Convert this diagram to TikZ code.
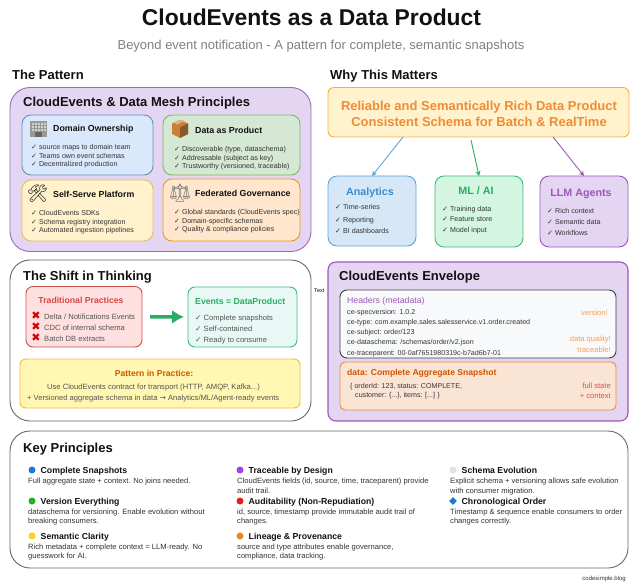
\documentclass[tikz,border=0pt]{standalone}
\usepackage{fontspec}
\usepackage{xcolor}
\usetikzlibrary{arrows.meta,shapes.geometric}
\setmainfont{Liberation Sans}
\newfontfamily\symfont{DejaVu Sans}
\newfontfamily\emojifont{Noto Emoji}
\newcommand{\fs}[1]{\fontsize{#1}{#1}\selectfont}
\newcommand{\ck}{{\symfont ✓}}
\definecolor{ink}{HTML}{111111}
\definecolor{body}{HTML}{333333}
\definecolor{soft}{HTML}{555555}
\definecolor{lilac}{HTML}{E4D5F2}
\definecolor{plum}{HTML}{9B6BB5}
\definecolor{hot}{HTML}{F08C36}
\definecolor{rust}{HTML}{D35400}
\definecolor{blueln}{HTML}{5AA5DC}
\definecolor{bluetx}{HTML}{3B8CD0}
\definecolor{greenln}{HTML}{3DBB78}
\definecolor{greentx}{HTML}{27AE60}
\definecolor{purpln}{HTML}{9B59B6}
\definecolor{redln}{HTML}{CD504B}
\definecolor{redtx}{HTML}{D64545}
\definecolor{notea}{HTML}{F5A05A}
\definecolor{noteb}{HTML}{E25050}
\definecolor{domfill}{HTML}{DAE8FC}
\definecolor{domln}{HTML}{6C8EBF}
\definecolor{prodfill}{HTML}{D5E8D4}
\definecolor{prodln}{HTML}{82B366}
\definecolor{platfill}{HTML}{FFF2CC}
\definecolor{platln}{HTML}{E2BE64}
\definecolor{govfill}{HTML}{FFE6CC}
\definecolor{govln}{HTML}{E4A014}
\definecolor{heroln}{HTML}{F8AE3C}
\definecolor{anafill}{HTML}{D6E8F8}
\definecolor{mlfill}{HTML}{D5F5E3}
\definecolor{tradfill}{HTML}{FFE0E0}
\definecolor{evfill}{HTML}{E8F8F5}
\definecolor{pracfill}{HTML}{FFF7B2}
\definecolor{pracln}{HTML}{F5B942}
\definecolor{hdrfill}{HTML}{F8F9FA}
\definecolor{datafill}{HTML}{FAE4D4}
\definecolor{dotblue}{HTML}{1E78D8}
\definecolor{dotgreen}{HTML}{22B022}
\definecolor{dotyellow}{HTML}{FFD21E}
\definecolor{dotpurple}{HTML}{A83EE8}
\definecolor{dotred}{HTML}{E02020}
\definecolor{dotorange}{HTML}{E88A1E}
\definecolor{dotgrey}{HTML}{E2E2E2}
\tikzset{
  box/.style={draw, rounded corners=9pt, anchor=north west, inner sep=0pt, outer sep=0pt, line width=0.9pt},
  big/.style={box, rounded corners=20pt},
  lab/.style={anchor=mid west, inner sep=0pt, text=ink},
  mid/.style={anchor=mid, inner sep=0pt},
  sect/.style={lab, font=\fs{13}\bfseries, yshift=-2.5pt},
  head/.style={lab, font=\fs{8.8}\bfseries, yshift=-1pt},
  item/.style={lab, text=body, font=\fs{7.1}},
  grey/.style={lab, text=soft, font=\fs{7.6}, yshift=-0.4pt},
  desc/.style={lab, text=body, font=\fs{7.6}, yshift=-0.4pt},
  note/.style={anchor=mid east, inner sep=0pt, font=\fs{7.6}, yshift=-0.4pt},
  dot/.style={circle, minimum size=7pt, inner sep=0pt},
  flow/.style={-{Stealth[length=5pt,width=5pt]}, line width=0.9pt},
}
\begin{document}
\begin{tikzpicture}[x=1pt,y=-1pt]
  \useasboundingbox (0,0) rectangle (639,585);

  \node[mid, text=ink, font=\fs{22.85}\bfseries, yshift=-6pt] (title) at (311.5,17) {CloudEvents as a Data Product};
  \node[mid, text=gray, font=\fs{13}, yshift=-2.5pt] (subtitle) at (321,44) {Beyond event notification - A pattern for complete, semantic snapshots};
  \node[sect] (patternT) at (12,74) {The Pattern};
  \node[sect] (whyT) at (330,74) {Why This Matters};

  % left top: principles
  \node[big, fill=lilac, draw=plum, minimum width=301pt, minimum height=164pt] (mesh) at (10,87.5) {};
  \node[sect] (meshT) at (23,101) {CloudEvents \& Data Mesh Principles};

  \node[box, fill=domfill, draw=domln, minimum width=131pt, minimum height=60pt] (domain) at (22,115) {};
  \node[box, fill=prodfill, draw=prodln, minimum width=137pt, minimum height=60pt] (product) at (163,115) {};
  \node[box, fill=platfill, draw=platln, minimum width=131pt, minimum height=61pt] (platform) at (22,180) {};
  \node[box, fill=govfill, draw=govln, minimum width=137pt, minimum height=62pt] (govern) at (163,179) {};

  % icons
  \fill[gray!80] (30,121) rectangle (47,137);
  \foreach \yy in {123,126,129} \foreach \xx in {32,35,38,41,44}
    \fill[gray!35] (\xx,\yy) rectangle +(1.6,1.8);
  \fill[black!60] (35,132.5) rectangle (42,137);
  \fill[brown!85!orange] (172,123.5) -- (180,120) -- (188,123.5) -- (188,134) -- (180,138) -- (172,134) -- cycle;
  \fill[brown!70!black] (180,127.5) -- (188,123.5) -- (188,134) -- (180,138) -- cycle;
  \fill[orange!35!brown!60!white] (174,122.6) -- (182,119.6) -- (184.5,121) -- (176.5,124.6) -- cycle;
  \node[inner sep=0pt, text=black!85, font=\emojifont\fs{17}] (toolsI) at (37.5,193.5) {🛠};
  \node[inner sep=0pt, text=gray, font=\emojifont\fs{18}] (scaleI) at (180,193) {⚖};

  \node[head] (domainT) at (53,128) {Domain Ownership};
  \foreach \y/\txt [count=\i] in {147/{source maps to domain team},155.8/{Teams own event schemas},164.3/{Decentralized production}}
    \node[item] (domain\i) at (31,\y) {\ck\ \txt};
  \node[head] (productT) at (195,130) {Data as Product};
  \foreach \y/\txt [count=\i] in {149/{Discoverable (type, dataschema)},157.8/{Addressable (subject as key)},166/{Trustworthy (versioned, traceable)}}
    \node[item] (product\i) at (174,\y) {\ck\ \txt};
  \node[head] (platformT) at (53,193.5) {Self-Serve Platform};
  \foreach \y/\txt [count=\i] in {213/{CloudEvents SDKs},221.5/{Schema registry integration},230/{Automated ingestion pipelines}}
    \node[item] (platform\i) at (31,\y) {\ck\ \txt};
  \node[head] (governT) at (195,193) {Federated Governance};
  \foreach \y/\txt [count=\i] in {212/{Global standards (CloudEvents spec)},220.5/{Domain-specific schemas},229/{Quality \& compliance policies}}
    \node[item] (govern\i) at (174,\y) {\ck\ \txt};

  % right top: why it matters
  \node[box, fill=platfill, draw=heroln, rounded corners=6pt, minimum width=301pt, minimum height=49.5pt] (hero) at (328,87.5) {};
  \node[mid, text=hot, font=\fs{13}\bfseries, yshift=-2.5pt] (heroA) at (479,105) {Reliable and Semantically Rich Data Product};
  \node[mid, text=hot, font=\fs{13}\bfseries, yshift=-2.5pt] (heroB) at (479,121) {Consistent Schema for Batch \& RealTime};

  \node[box, fill=anafill, draw=blueln, minimum width=88pt, minimum height=70pt] (analytics) at (328,176) {};
  \node[box, fill=mlfill, draw=greenln, minimum width=88pt, minimum height=71pt] (ml) at (435,176) {};
  \node[box, fill=lilac, draw=purpln, minimum width=88pt, minimum height=71pt] (llm) at (540,176) {};
  \node[mid, text=bluetx, font=\fs{10.7}\bfseries, yshift=-1.6pt] (analyticsT) at (370,191) {Analytics};
  \node[mid, text=greentx, font=\fs{10.7}\bfseries, yshift=-1.6pt] (mlT) at (476,190) {ML / AI};
  \node[mid, text=purpln, font=\fs{10.7}\bfseries, yshift=-1.6pt] (llmT) at (581,192) {LLM Agents};
  \foreach \y/\txt [count=\i] in {207/{Time-series},220/{Reporting},231/{BI dashboards}}
    \node[item] (analytics\i) at (335,\y) {\ck\ \txt};
  \foreach \y/\txt [count=\i] in {208.5/{Training data},219/{Feature store},230/{Model input}}
    \node[item] (ml\i) at (442,\y) {\ck\ \txt};
  \foreach \y/\txt [count=\i] in {211/{Rich context},221.5/{Semantic data},232.5/{Workflows}}
    \node[item] (llm\i) at (547,\y) {\ck\ \txt};

  \coordinate (heroL) at (403,137);
  \coordinate (heroM) at (471,140);
  \coordinate (heroR) at (553,137);
  \draw[flow, blueln] (heroL) -- (analytics.north);
  \draw[flow, greentx] (heroM) -- (ml.north);
  \draw[flow, purpln] (heroR) -- (llm.north);

  % shift in thinking
  \node[big, fill=white, draw=black!60, minimum width=301pt, minimum height=161pt] (shift) at (10,260) {};
  \node[sect] (shiftT) at (23,275) {The Shift in Thinking};
  \node[box, fill=tradfill, draw=redln, rounded corners=7pt, minimum width=116pt, minimum height=60.5pt] (trad) at (26,286.5) {};
  \node[box, fill=evfill, draw=greenln, rounded corners=7pt, minimum width=109pt, minimum height=60pt] (events) at (188,287) {};
  \draw[-{Latex[length=12pt,width=14pt]}, line width=3.4pt, draw=greentx, shorten <=8pt, shorten >=4pt] (trad) -- (events);
  \node[mid, text=redtx, font=\fs{8.7}\bfseries, yshift=-1pt] (tradT) at (81,300) {Traditional Practices};
  \node[lab, text=greentx, font=\fs{8.7}\bfseries, yshift=-1pt] (eventsT) at (195,301) {Events = DataProduct};
  \foreach \y/\txt [count=\i] in {316/{Delta / Notifications Events},327/{CDC of internal schema},338/{Batch DB extracts}} {
    \node[inner sep=0pt, text=red!85!black, font=\symfont\fs{11}] (cross\i) at (36,\y) {✖};
    \node[grey] (trad\i) at (44,\y) {\txt};
  }
  \foreach \y/\txt [count=\i] in {317/{Complete snapshots},328/{Self-contained},339/{Ready to consume}}
    \node[grey] (events\i) at (195,\y) {\ck\ \txt};

  \node[box, fill=pracfill, draw=pracln, rounded corners=6pt, minimum width=280pt, minimum height=49pt] (practice) at (20,359) {};
  \node[mid, text=rust, font=\fs{8.6}\bfseries, yshift=-1pt] (practiceT) at (154,373) {Pattern in Practice:};
  \node[grey] (practice1) at (47,386) {Use CloudEvents contract for transport (HTTP, AMQP, Kafka...)};
  \node[grey] (practice2) at (27,397) {+ Versioned aggregate schema in data {\symfont →} Analytics/ML/Agent-ready events};
  \node[lab, font=\fs{5.6}] (stray) at (314,290) {Text};

  % envelope
  \node[box, fill=lilac, draw=purpln, rounded corners=8pt, line width=1.1pt, minimum width=300pt, minimum height=159pt] (envelope) at (328,262) {};
  \node[sect] (envelopeT) at (339,275) {CloudEvents Envelope};
  \node[box, fill=hdrfill, draw=black!75, rounded corners=7pt, minimum width=276pt, minimum height=68pt] (headers) at (340,290) {};
  \node[lab, text=purpln, font=\fs{8.7}, yshift=-1pt] (headersT) at (347,300) {Headers (metadata)};
  \foreach \y/\txt [count=\i] in {312/{ce-specversion: 1.0.2},322/{ce-type: com.example.sales.salesservice.v1.order.created},332/{ce-subject: order/123},342/{ce-dataschema: /schemas/order/v2.json},353/{ce-traceparent: 00-0af7651980319c-b7ad6b7-01}}
    \node[item, text=ink!85] (headers\i) at (347,\y) {\txt};
  \node[note, text=notea] (noteA) at (608,312) {version!};
  \node[note, text=notea] (noteB) at (611,338) {data quality!};
  \node[note, text=notea] (noteC) at (611,349) {traceable!};

  \node[box, fill=datafill, draw=hot, rounded corners=5pt, minimum width=276pt, minimum height=48pt] (dataB) at (340,362) {};
  \node[lab, text=rust, font=\fs{8.6}\bfseries, yshift=-1pt] (dataT) at (347,372) {data: Complete Aggregate Snapshot};
  \node[item, text=ink!85] (code1) at (350,386) {\{ orderId: 123, status: COMPLETE,};
  \node[item, text=ink!85] (code2) at (355,395) {customer: \{...\}, items: [...] \}};
  \node[note, text=noteb] (noteD) at (611,385) {full state};
  \node[note, text=noteb] (noteE) at (611,395) {+ context};

  % key principles
  \node[big, fill=white, draw=black!60, minimum width=618pt, minimum height=137pt] (keys) at (10,431) {};
  \node[sect] (keysT) at (23,447) {Key Principles};

  \foreach \xx/\col/\y/\txt [count=\i] in {
    32/dotblue/470/{Complete Snapshots},
    32/dotgreen/501/{Version Everything},
    32/dotyellow/536/{Semantic Clarity},
    240/dotpurple/470/{Traceable by Design},
    240/dotred/501/{Auditability (Non-Repudiation)},
    240/dotorange/536/{Lineage \& Provenance},
    453/dotgrey/470/{Schema Evolution}} {
    \node[dot, fill=\col] (dot\i) at (\xx,\y) {};
    \node[head, font=\fs{8.7}\bfseries] (key\i) at (\xx+8.5,\y) {\txt};
  }
  \node[diamond, fill=dotblue, inner sep=0pt, minimum size=8pt] (dot8) at (453,501) {};
  \node[head, font=\fs{8.7}\bfseries] (key8) at (461.5,501) {Chronological Order};

  \foreach \xx/\y/\txt [count=\i] in {
    28/480.5/{Full aggregate state + context. No joins needed.},
    28/511/{dataschema for versioning. Enable evolution without},
    28/520.5/{breaking consumers.},
    28/546/{Rich metadata + complete context = LLM-ready. No},
    28/555.5/{guesswork for AI.},
    237/480.5/{CloudEvents fields (id, source, time, traceparent) provide},
    237/490/{audit trail.},
    237/511/{id, source, timestamp provide immutable audit trail of},
    237/520.5/{changes.},
    237/546/{source and type attributes enable governance,},
    237/555.5/{compliance, data tracking.},
    450/480.5/{Explicit schema + versioning allows safe evolution},
    450/490/{with consumer migration.},
    450/511/{Timestamp \& sequence enable consumers to order},
    450/520.5/{changes correctly.}}
    \node[desc] (desc\i) at (\xx,\y) {\txt};

  \node[note, text=body, font=\fs{6}] (blog) at (626,577) {codesimple.blog};
\end{tikzpicture}
\end{document}
